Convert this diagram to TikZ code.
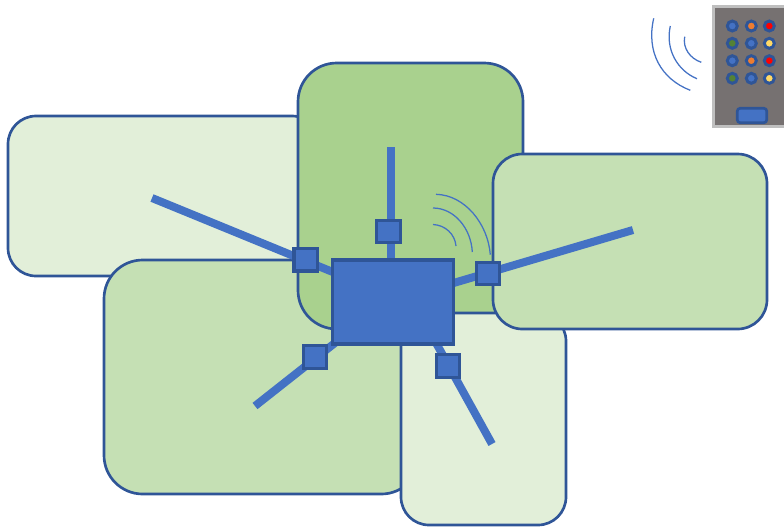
\documentclass[tikz,border=0pt]{standalone}
\pgfdeclarelayer{boxes}
\pgfdeclarelayer{links}
\pgfsetlayers{boxes,links,main}
\definecolor{lightgreen}{HTML}{E2EFD9}
\definecolor{midgreen}{HTML}{C5E0B4}
\definecolor{deepgreen}{HTML}{A9D18E}
\definecolor{edgeblue}{HTML}{2F5597}
\definecolor{mainblue}{HTML}{4472C4}
\definecolor{remotegray}{HTML}{767171}
\definecolor{remoteedge}{HTML}{BFBFBF}
\definecolor{btnorange}{HTML}{ED7D31}
\definecolor{btnred}{HTML}{FF0000}
\definecolor{btngreen}{HTML}{548235}
\definecolor{btnyellow}{HTML}{FFD966}
\tikzset{
  sized/.style 2 args={minimum width=#1*0.75pt,minimum height=#2*0.75pt},
  zone/.style={draw=edgeblue,line width=2pt,inner sep=0pt,outer sep=0pt,rectangle},
  hubbox/.style={draw=edgeblue,fill=mainblue,line width=2.4pt,inner sep=0pt,outer sep=0pt,rectangle,sized={121}{84}},
  portbox/.style={draw=edgeblue,fill=mainblue,line width=2.4pt,inner sep=0pt,outer sep=0pt,rectangle,sized={23.6}{22.6}},
  link/.style={draw=mainblue,line width=6pt,line join=round},
  wave/.style={draw=mainblue,line width=0.95pt},
  remotebody/.style={draw=remoteedge,fill=remotegray,line width=2.2pt,inner sep=0pt,outer sep=0pt,rectangle},
  dot/.style={circle,draw=edgeblue,line width=2.2pt,inner sep=0pt,outer sep=0pt,minimum size=10*0.75pt,fill=#1},
  btn/.style={draw=edgeblue,fill=mainblue,line width=2pt,inner sep=0pt,outer sep=0pt,rectangle,rounded corners=2.2pt,sized={29.5}{14.5}}
}
\begin{document}
\begin{tikzpicture}[x=0.75pt,y=-0.75pt]
\useasboundingbox (0,0) rectangle (784,526);
\begin{pgfonlayer}{boxes}
  \node[zone,fill=lightgreen,rounded corners=21pt,sized={312}{160}] (zoneL) at (164,196) {};
  \node[zone,fill=midgreen,rounded corners=29pt,sized={316}{234}] (zoneS) at (262,377) {};
  \node[zone,fill=deepgreen,rounded corners=29pt,sized={225}{266}] (zoneT) at (410.5,196) {};
  \node[zone,fill=lightgreen,rounded corners=21pt,sized={165}{212}] (zoneB) at (483.5,419) {};
  \node[zone,fill=midgreen,rounded corners=22pt,sized={274}{175}] (zoneR) at (630,241.5) {};
\end{pgfonlayer}

\node[hubbox] (hub) at (393,302) {};
\node[portbox] (portT) at (388.5,231.5) {};
\node[portbox] (portL) at (305.7,259.6) {};
\node[portbox] (portR) at (488,273.5) {};
\node[portbox] (portSW) at (315,357) {};
\node[portbox] (portSE) at (448,366) {};

\coordinate (endT) at (390.7,147);
\coordinate (endL) at (152,198);
\coordinate (endR) at (633,230);
\coordinate (endSW) at (255,406);
\coordinate (endSE) at (492,444);
\coordinate (hubT) at (390.7,270);
\coordinate (hubL) at (345,277);
\coordinate (hubR) at (440,287);
\coordinate (hubSW) at (345,335);
\coordinate (hubSE) at (430,332);

\begin{pgfonlayer}{links}
  \draw[link] (endT) -- (hubT);
  \draw[link] (endL) -- (hubL);
  \draw[link] (endR) -- (hubR);
  \draw[link] (endSW) -- (hubSW);
  \draw[link] (endSE) -- (hubSE);
\end{pgfonlayer}

\draw[wave] (433,224.5) .. controls (445,225) and (455,234) .. (456,246);
\draw[wave] (433,208) .. controls (454,208) and (471,228) .. (472.3,252);
\draw[wave] (436,194.3) .. controls (465,195) and (488,224) .. (490.3,254.7);

\draw[wave] (684.7,36.7) .. controls (682.5,48) and (690,58.5) .. (701.3,62.3);
\draw[wave] (670.3,26) .. controls (665,50) and (678,71) .. (697,78.7);
\draw[wave] (653.7,18.3) .. controls (646,52) and (661,79) .. (690.3,90.3);

\node[remotebody,sized={76}{120}] (remote) at (751.5,66.7) {};
\node[dot=mainblue] (d11) at (732.3,26) {};
\node[dot=btnorange] (d12) at (751.3,26) {};
\node[dot=btnred] (d13) at (769.3,26) {};
\node[dot=btngreen] (d21) at (732.3,43.3) {};
\node[dot=mainblue] (d22) at (751.3,43.3) {};
\node[dot=btnyellow] (d23) at (769.3,43.3) {};
\node[dot=mainblue] (d31) at (732.3,60.7) {};
\node[dot=btnorange] (d32) at (751.3,60.7) {};
\node[dot=btnred] (d33) at (769.3,60.7) {};
\node[dot=btngreen] (d41) at (732.3,78.3) {};
\node[dot=mainblue] (d42) at (751.3,78.3) {};
\node[dot=btnyellow] (d43) at (769.3,78.3) {};
\node[btn] (button) at (752,115.5) {};
\end{tikzpicture}
\end{document}
